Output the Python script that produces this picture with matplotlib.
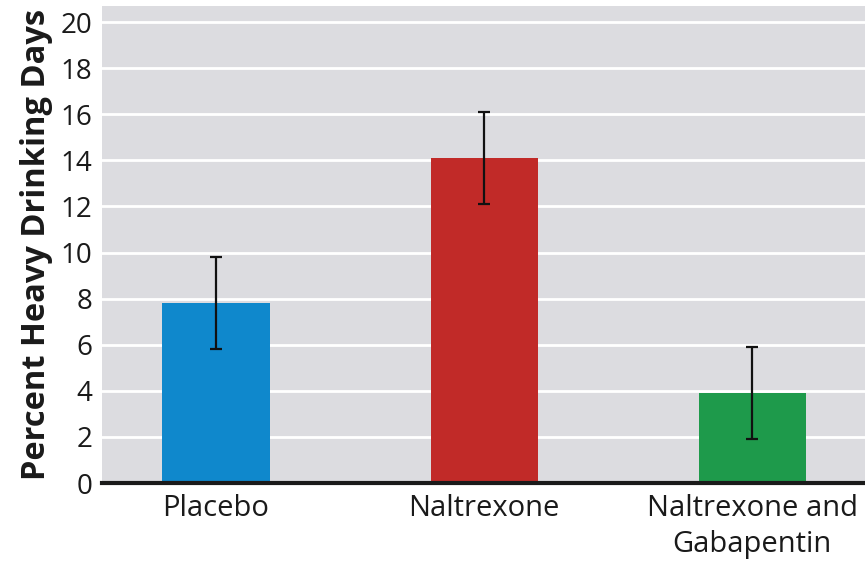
import numpy as np
import matplotlib.pyplot as plt

groups = ['Placebo', 'Naltrexone', 'Naltrexone and\nGabapentin']
means = [7.8, 14.1, 3.9]
errs = [2.0, 2.0, 2.0]
colors = ['#0f88cc', '#c12a28', '#1e9a4b']
yticks = [0, 2, 4, 6, 8, 10, 12, 14, 16, 18, 20]

plt.rcParams['font.family'] = ['Open Sans', 'DejaVu Sans']

fig = plt.figure(figsize=(8.65, 5.63), dpi=100)
ax = fig.add_axes([102/865, 1 - 483/563, (865 - 102)/865, (483 - 6)/563])
ax.set_facecolor('#dcdce0')

x = np.arange(len(groups))
ax.bar(x, means, width=0.4, color=colors, zorder=3)
ax.errorbar(x, means, yerr=errs, fmt='none', ecolor='#111111',
            elinewidth=1.6, capsize=4.5, capthick=1.6, zorder=4)

ax.set_ylim(0, 20.7)
ax.set_xlim(-0.425, 2.42)
ax.set_yticks(yticks)
ax.yaxis.grid(True, color='white', linewidth=2, zorder=1)
ax.set_axisbelow(True)
for s in ['top', 'right', 'left']:
    ax.spines[s].set_visible(False)
ax.spines['bottom'].set_linewidth(3)
ax.spines['bottom'].set_color('#1a1a1a')
ax.spines['bottom'].set_zorder(5)

ax.set_xticks(x)
ax.set_xticklabels(groups, fontsize=21, color='#1a1a1a', linespacing=1.3)
ax.tick_params(axis='both', length=0)
ax.tick_params(axis='y', labelsize=20, labelcolor='#1a1a1a', pad=7)
ax.tick_params(axis='x', pad=8)
ax.set_ylabel('Percent Heavy Drinking Days', fontsize=23.5, fontweight='bold',
              color='#1a1a1a', labelpad=5)

fig.savefig('out.png', dpi=100)
